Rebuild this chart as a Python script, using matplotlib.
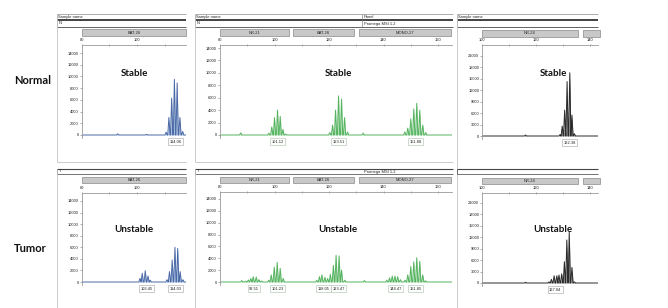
import matplotlib
matplotlib.use("Agg")
import matplotlib.pyplot as plt
from matplotlib.patches import Rectangle
import numpy as np

# ------------------------------------------------------------------ data
row_labels = ["Normal", "Tumor"]
status_labels = ["Stable", "Unstable"]

p1_markers = ["BAT-26"]
p2_markers = ["NR-21", "BAT-26", "MONO-27"]
p3_markers = ["NR-24", ""]

p12_xticks = [80, 100, 120, 140, 160]
p3_xticks = [100, 120, 140]
p12_yticks = [0, 2000, 4000, 6000, 8000, 10000, 12000, 14000]
p3_yticks = [0, 3000, 6000, 9000, 12000, 15000, 18000, 21000]

# Normal, BAT-26 (blue)
n1_size = [93.0, 103.5, 110.6, 111.6, 112.6, 113.6, 114.6, 115.6, 116.6]
n1_rfu = [200, 120, 500, 3000, 6300, 9500, 8900, 3000, 600]
n1_calls = [114.06]

# Normal, NR-21 / BAT-26 / MONO-27 (green)
n2_size = [87.6, 97.9, 99.0, 100.0, 101.1, 102.1, 103.1, 104.1,
           120.3, 121.3, 122.4, 123.5, 124.6, 125.7, 126.8, 132.5,
           147.8, 148.9, 150.0, 151.1, 152.2, 153.3, 154.4, 155.5]
n2_rfu = [350, 300, 1300, 2800, 4000, 3000, 900, 150,
          400, 1600, 4000, 6300, 5800, 2800, 500, 300,
          500, 1100, 2600, 4200, 5100, 4000, 1600, 400]
n2_calls = [101.12, 123.51, 151.88]

# Normal, NR-24 (black)
n3_size = [116.0, 128.8, 129.6, 130.5, 131.4, 132.4, 133.2, 134.1]
n3_rfu = [250, 400, 2600, 6800, 14300, 16600, 5500, 600]
n3_calls = [132.38]

# Tumor, BAT-26 (blue)
t1_size = [101.1, 101.9, 103.0, 104.0, 104.8,
           110.9, 111.8, 112.8, 113.8, 114.8, 115.7, 116.7]
t1_rfu = [640, 1500, 1950, 1040, 300,
          400, 1800, 3800, 6000, 5800, 1800, 400]
t1_calls = [103.45, 114.03]

# Tumor, NR-21 / BAT-26 / MONO-27 (green)
t2_size = [88.0, 89.4, 90.4, 91.3, 92.2, 93.3, 94.3, 95.3,
           97.9, 98.8, 99.9, 101.0, 102.1, 103.2,
           115.5, 116.5, 117.4, 118.5, 119.5, 120.5, 121.6, 122.6, 123.7, 124.6, 125.8,
           133.0,
           141.2, 142.2, 143.2, 144.2, 145.2, 146.2,
           147.9, 148.9, 150.0, 151.1, 152.2, 153.3, 154.4, 155.4]
t2_rfu = [250, 150, 350, 600, 900, 850, 400, 150,
          300, 1200, 2500, 3300, 2300, 600,
          300, 900, 1200, 800, 600, 1300, 2800, 4500, 4400, 2000, 300,
          250,
          300, 700, 1000, 1000, 900, 400,
          300, 1200, 2600, 3400, 4100, 3500, 1200, 200]
t2_calls = [92.51, 101.23, 118.05, 123.47, 144.47, 151.85]

# Tumor, NR-24 (black)
t3_size = [116.0, 124.7, 125.6, 126.6, 127.6, 128.4, 129.4, 130.4, 131.3, 132.2, 133.2, 134.1]
t3_rfu = [200, 300, 970, 1900, 1900, 2100, 2400, 5600, 11300, 13300, 4100, 300]
t3_calls = [127.04]

# ------------------------------------------------------------------ figure
W, H = 668, 308
fig = plt.figure(figsize=(W / 100, H / 100), dpi=100)
fig.patch.set_facecolor("white")

ov = fig.add_axes([0, 0, 1, 1], zorder=5)
ov.set_xlim(0, W)
ov.set_ylim(H, 0)
ov.axis("off")
ov.patch.set_alpha(0)

TINY = 2.9
TFONT = "Liberation Sans"
PX = 0.72  # points per pixel

BLUE = ("#4a6aa6", "#a9bfe2")
GREEN = ("#55b360", "#b2e0b6")
BLACK = ("#2a2a2a", "#8c8c8c")


def hline(x0, x1, y, lw=0.7, c="#555555"):
    ov.plot([x0, x1], [y, y], color=c, lw=lw * PX, solid_capstyle="butt")


def vline(x, y0, y1, lw=0.7, c="#555555"):
    ov.plot([x, x], [y0, y1], color=c, lw=lw * PX, solid_capstyle="butt")


def txt(x, y, s, **kw):
    kw.setdefault("fontsize", TINY)
    kw.setdefault("family", TFONT)
    kw.setdefault("color", "#222222")
    kw.setdefault("va", "center")
    ov.text(x, y, s, **kw)


def gray_bar(x0, x1, y0, y1, label):
    ov.add_patch(Rectangle((x0, y0), x1 - x0, y1 - y0, facecolor="#c8c8c8",
                           edgecolor="#8a8a8a", lw=0.7 * PX))
    if label:
        txt((x0 + x1) / 2, (y0 + y1) / 2, label, ha="center")


def header_normal(x0, x1, div=None, name_txt="Sample name", n_txt="N",
                  panel_txt=None, kit_txt=None):
    hline(x0, x1, 14, 0.8, "#9a9a9a")
    hline(x0, x1, 20, 1.8, "#333333")
    hline(x0, x1, 27, 0.9, "#555555")
    vline(x0, 14, 27, 0.8, "#9a9a9a")
    txt(x0 + 1.5, 17, name_txt)
    if n_txt:
        txt(x0 + 1.5, 23.5, n_txt)
    if div is not None:
        vline(div, 14, 27, 0.6, "#777777")
        txt(div + 1.5, 17, panel_txt)
        txt(div + 1.5, 23.5, kit_txt)


def header_tumor(x0, x1, t_txt="T", div=None, kit_txt=None):
    hline(x0, x1, 168.7, 1.1, "#444444")
    hline(x0, x1, 174.3, 0.8, "#555555")
    vline(x0, 168.7, 174.3, 0.8, "#555555")
    if t_txt:
        txt(x0 + 1.5, 171.5, t_txt)
    if div is not None:
        txt(div + 1.5, 171.5, kit_txt)


def trace(size, rfu, xmin, xmax, hw=0.42):
    s = np.asarray(size, float)
    r = np.asarray(rfu, float)
    o = np.argsort(s)
    xs, ys = [xmin], [0.0]
    for p, v in zip(s[o], r[o]):
        xs += [p - hw, p, p + hw]
        ys += [0.0, v, 0.0]
    xs.append(xmax)
    ys.append(0.0)
    return np.array(xs), np.array(ys)


def panel(left, top, right, base, x0, ppb, ppk, xticks, yticks, size, rfu,
          calls, col):
    bottom = base + 2.5
    ax = fig.add_axes([left / W, 1 - bottom / H, (right - left) / W,
                       (bottom - top) / H], zorder=3)
    ax.patch.set_alpha(0)
    xmax = x0 + (right - left) / ppb
    ax.set_xlim(x0, xmax)
    ax.set_ylim(-(bottom - base) / ppk * 1000, (base - top) / ppk * 1000)
    for s in ["right", "bottom"]:
        ax.spines[s].set_visible(False)
    for s in ["left", "top"]:
        ax.spines[s].set_color("#9a9a9a")
        ax.spines[s].set_linewidth(0.6)
    ax.xaxis.set_ticks_position("top")
    ax.set_xticks([t for t in xticks if x0 <= t <= xmax])
    ax.set_xticks([t for t in range(int(x0), int(xmax) + 1, 10)], minor=True)
    ax.set_yticks(yticks)
    ax.set_yticklabels([str(v) for v in yticks])
    ax.tick_params(axis="x", which="both", direction="inout", length=2,
                   width=0.5, color="#8a8a8a", labelsize=TINY, pad=1.2,
                   labelcolor="#222222")
    ax.tick_params(axis="y", which="both", direction="out", length=1.5,
                   width=0.5, color="#8a8a8a", labelsize=TINY, pad=0.8,
                   labelcolor="#222222")
    for lab in ax.get_xticklabels() + ax.get_yticklabels():
        lab.set_family(TFONT)
    xs, ys = trace(size, rfu, x0, xmax)
    ax.fill_between(xs, 0, ys, color=col[1], lw=0)
    ax.plot(xs, ys, color=col[0], lw=0.7)
    for c in calls:
        ax.annotate(f"{c:.2f}", xy=(c, 0), xytext=(0, -4.8),
                    textcoords="offset points", ha="center", va="center",
                    fontsize=TINY, family=TFONT, color="#222222",
                    annotation_clip=False,
                    bbox=dict(boxstyle="square,pad=0.35", fc="white",
                              ec="#a8c0a8" if col is GREEN else "#a0a0a0",
                              lw=0.4))
    return ax


# ---------------- headers / frames
# normal row
header_normal(57, 186)
header_normal(195, 453, div=362, panel_txt="Panel", kit_txt="Promega MSI 1.2")
header_normal(457, 598, n_txt="")
vline(57, 14, 162, 0.8, "#c0c0c0")
hline(57, 186, 162, 0.8, "#c0c0c0")
vline(195, 14, 162, 0.8, "#c0c0c0")
hline(195, 453, 162, 0.8, "#c0c0c0")
vline(457, 14, 308, 0.8, "#c0c0c0")

gray_bar(82, 186, 29.3, 36, p1_markers[0])
gray_bar(219.5, 289, 29.3, 36, p2_markers[0])
gray_bar(293, 354, 29.3, 36, p2_markers[1])
gray_bar(359, 451, 29.3, 36, p2_markers[2])
gray_bar(482, 577.5, 29.8, 36.5, p3_markers[0])
gray_bar(582.5, 600, 29.8, 36.5, p3_markers[1])

# tumor row
header_tumor(57, 186)
header_tumor(195, 453, div=362, kit_txt="Promega MSI 1.2")
header_tumor(457, 598, t_txt="")
vline(57, 168.7, 308, 0.8, "#c0c0c0")
vline(195, 168.7, 308, 0.8, "#c0c0c0")

gray_bar(82, 186, 177, 183, p1_markers[0])
gray_bar(219.5, 289, 177, 183, p2_markers[0])
gray_bar(293, 354, 177, 183, p2_markers[1])
gray_bar(359, 451, 177, 183, p2_markers[2])
gray_bar(482, 577.5, 177.8, 184, p3_markers[0])
gray_bar(582.5, 600, 177.8, 184, p3_markers[1])

# ---------------- data panels
panel(82, 45, 186, 135, 80, 2.75, 5.857, p12_xticks, p12_yticks,
      n1_size, n1_rfu, n1_calls, BLUE)
panel(220, 45, 452, 135, 80, 2.725, 6.214, p12_xticks, p12_yticks,
      n2_size, n2_rfu, n2_calls, GREEN)
panel(482.3, 45, 598, 136, 100, 2.7, 3.81, p3_xticks, p3_yticks,
      n3_size, n3_rfu, n3_calls, BLACK)

panel(82, 193, 186, 282, 80, 2.75, 5.786, p12_xticks, p12_yticks,
      t1_size, t1_rfu, t1_calls, BLUE)
panel(220, 192, 452, 282, 80, 2.725, 5.93, p12_xticks, p12_yticks,
      t2_size, t2_rfu, t2_calls, GREEN)
panel(482.3, 193, 598, 283, 100, 2.7, 3.81, p3_xticks, p3_yticks,
      t3_size, t3_rfu, t3_calls, BLACK)

# ---------------- big labels
BIG = "Lato"
ov.text(33, 80, row_labels[0], fontsize=8, fontweight="bold", family=BIG,
        ha="center", va="center", color="#111111")
ov.text(30, 248, row_labels[1], fontsize=8, fontweight="bold", family=BIG,
        ha="center", va="center", color="#111111")
for cx in (134, 338, 553):
    ov.text(cx, 74, status_labels[0], fontsize=7, fontweight="bold",
            family=BIG, ha="center", va="center", color="#111111")
    ov.text(cx, 229, status_labels[1], fontsize=7, fontweight="bold",
            family=BIG, ha="center", va="center", color="#111111")

fig.savefig("out.png", dpi=100, facecolor="white")
